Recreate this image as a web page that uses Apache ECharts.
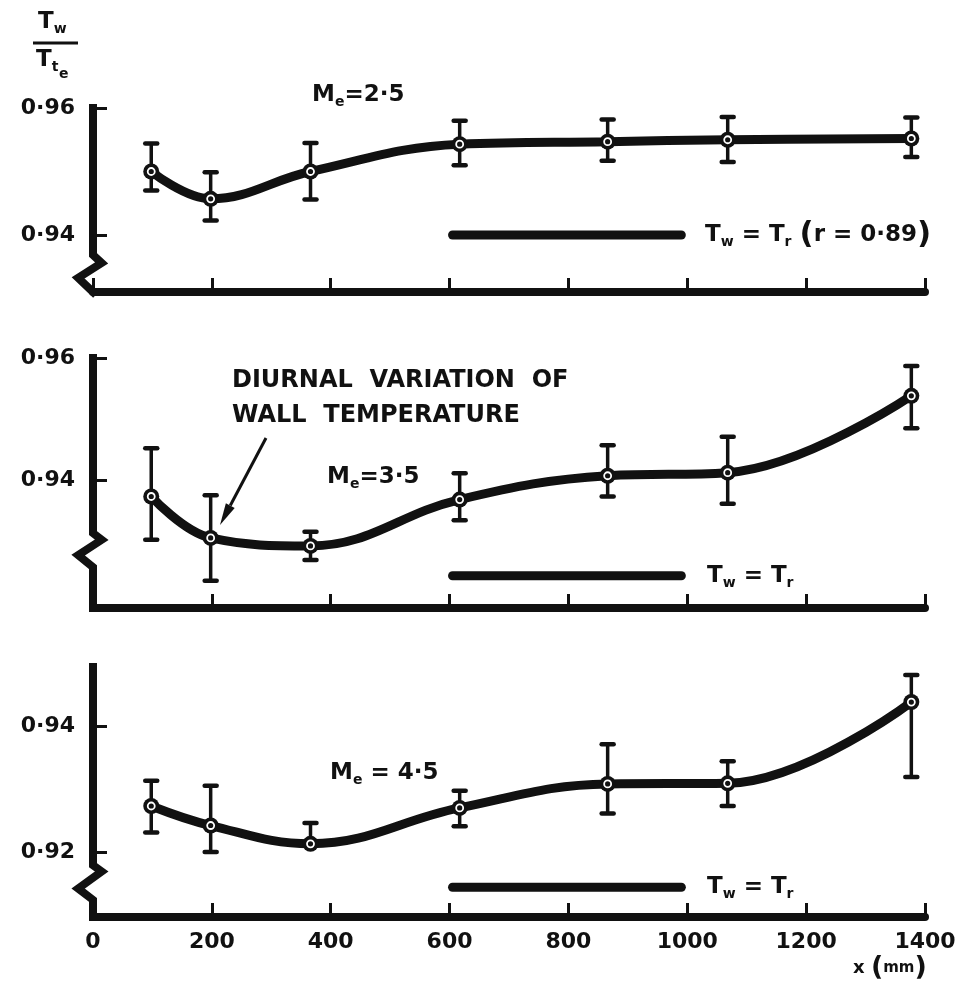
<!DOCTYPE html>
<html><head><meta charset="utf-8">
<script src="https://cdn.jsdelivr.net/npm/echarts@6/dist/echarts.min.js"></script>
<style>html,body{margin:0;padding:0;background:#fff}#c{width:971px;height:1002px}</style>
</head><body><div id="c"></div>
<script>
// ---- data ----
const xTickValues = [0, 200, 400, 600, 800, 1000, 1200, 1400];
const stationX = [98, 198, 366, 617, 866, 1068, 1377];

const me25 = [0.9500, 0.9457, 0.9500, 0.9543, 0.9547, 0.9550, 0.9552];
const me25Hi = [0.9544, 0.9499, 0.9545, 0.9580, 0.9582, 0.9586, 0.9585];
const me25Lo = [0.9470, 0.9423, 0.9456, 0.9510, 0.9517, 0.9515, 0.9523];

const me35 = [0.9373, 0.9305, 0.9292, 0.9368, 0.9407, 0.9412, 0.9538];
const me35Hi = [0.9452, 0.9375, 0.9315, 0.9411, 0.9457, 0.9471, 0.9587];
const me35Lo = [0.9302, 0.9235, 0.9269, 0.9334, 0.9373, 0.9361, 0.9485];

const me45 = [0.9273, 0.9242, 0.9213, 0.9270, 0.9308, 0.9309, 0.9438];
const me45Hi = [0.9313, 0.9305, 0.9246, 0.9297, 0.9371, 0.9344, 0.9481];
const me45Lo = [0.9231, 0.9200, 0.9213, 0.9241, 0.9261, 0.9273, 0.9319];

const recoveryX = [605, 990];
const recoveryY = [0.94, 0.9243, 0.9144];

const yTicks1 = [0.94, 0.96];
const yTicks2 = [0.94, 0.96];
const yTicks3 = [0.92, 0.94];

// ---- layout ----
const INK = '#111';
const FONT = 'DejaVu Sans';
const panels = [
  {top: 108, height: 184, min: 0.93102, max: 0.96, ticks: yTicks1, v: me25, hi: me25Hi, lo: me25Lo,
   brk: [0.93685, 0.93559, 0.93323]},
  {top: 358, height: 250, min: 0.91902, max: 0.96, ticks: yTicks2, v: me35, hi: me35Hi, lo: me35Lo,
   brk: [0.9313, 0.9302, 0.9277, 0.9257]},
  {top: 667, height: 250, min: 0.90968, max: 0.94936, ticks: yTicks3, v: me45, hi: me45Hi, lo: me45Lo,
   brk: [0.9179, 0.9169, 0.9142, 0.9124]}
];

const grid = [], xAxis = [], yAxis = [], series = [];
panels.forEach((p, i) => {
  grid.push({left: 93, width: 832, top: p.top, height: p.height});
  xAxis.push({
    gridIndex: i, type: 'value', min: 0, max: 1400, interval: 200,
    axisLine: {onZero: false, lineStyle: {color: INK, width: 8}},
    axisTick: {inside: true, length: 14, lineStyle: {color: INK, width: 3}},
    axisLabel: {show: i === 2, margin: 14, color: INK, fontFamily: FONT, fontWeight: 'bold', fontSize: 22,
      customValues: xTickValues, formatter: v => String(v)},
    splitLine: {show: false}
  });
  yAxis.push({
    gridIndex: i, type: 'value', min: p.min, max: p.max,
    axisLine: {show: false},
    axisTick: {show: true, inside: true, length: 14, customValues: p.ticks, lineStyle: {color: INK, width: 3}},
    axisLabel: {customValues: p.ticks, margin: 18, color: INK, fontFamily: FONT, fontWeight: 'bold', fontSize: 22,
      formatter: v => v.toFixed(2).replace('.', '\u00b7')},
    splitLine: {show: false}
  });
  // y axis line with the zig-zag break (drawn through the axis scales)
  const b = p.brk;
  const path = [[0, p.max], [0, b[0]], [14.6, b[1]], [-25, b[2]]];
  if (b.length > 3) path.push([0, b[3]]);
  path.push([0, p.min]);
  series.push({type: 'custom', xAxisIndex: i, yAxisIndex: i, data: path, clip: false, silent: true, z: 4,
    encode: {x: 0, y: 1},
    renderItem: (params, api) => {
      if (params.dataIndexInside !== 0) return null;
      const pts = [];
      for (let k = 0; k < params.dataInsideLength; k++) {
        pts.push(api.coord([api.value(0, k), api.value(1, k)]));
      }
      return {type: 'polyline', shape: {points: pts},
        style: {stroke: INK, lineWidth: 8, fill: null, lineJoin: 'miter', lineCap: 'square'}};
    }});
  // fitted curve
  series.push({type: 'line', xAxisIndex: i, yAxisIndex: i, data: stationX.map((x, k) => [x, p.v[k]]),
    smooth: 0.4, symbol: 'none', lineStyle: {color: INK, width: 9}, z: 2});
  // error bars
  series.push({type: 'custom', xAxisIndex: i, yAxisIndex: i, clip: false, z: 3,
    data: stationX.map((x, k) => [x, p.lo[k], p.hi[k]]),
    encode: {x: 0, y: [1, 2]},
    renderItem: (params, api) => {
      const x = api.value(0);
      const a = api.coord([x, api.value(2)]), c = api.coord([x, api.value(1)]);
      const w = 6;
      return {type: 'group', children: [
        {type: 'line', shape: {x1: a[0], y1: a[1], x2: c[0], y2: c[1]}, style: {stroke: INK, lineWidth: 3.5}},
        {type: 'line', shape: {x1: a[0] - w, y1: a[1], x2: a[0] + w, y2: a[1]}, style: {stroke: INK, lineWidth: 4.5, lineCap: 'round'}},
        {type: 'line', shape: {x1: c[0] - w, y1: c[1], x2: c[0] + w, y2: c[1]}, style: {stroke: INK, lineWidth: 4.5, lineCap: 'round'}}
      ]};
    }});
  // markers (⊙)
  const pts = stationX.map((x, k) => [x, p.v[k]]);
  series.push({type: 'scatter', xAxisIndex: i, yAxisIndex: i, data: pts, symbol: 'circle', symbolSize: 16,
    itemStyle: {color: INK, opacity: 1}, z: 5, silent: true});
  series.push({type: 'scatter', xAxisIndex: i, yAxisIndex: i, data: pts, symbol: 'circle', symbolSize: 7,
    itemStyle: {color: INK, borderColor: '#fff', borderWidth: 1.8, opacity: 1}, z: 6, silent: true});
  // T_w = T_r reference line
  series.push({type: 'line', xAxisIndex: i, yAxisIndex: i, data: recoveryX.map(x => [x, recoveryY[i]]),
    symbol: 'none', lineStyle: {color: INK, width: 9, cap: 'round'}, z: 2});
});

const rich = {
  b: {fontFamily: FONT, fontWeight: 'bold', fontSize: 23, lineHeight: 28, fill: INK, verticalAlign: 'middle'},
  a: {fontFamily: FONT, fontWeight: 'bold', fontSize: 24, lineHeight: 28, fill: INK, verticalAlign: 'middle'},
  p: {fontFamily: FONT, fontWeight: 'bold', fontSize: 31, lineHeight: 28, fill: INK, verticalAlign: 'middle'},
  q: {fontFamily: FONT, fontWeight: 'bold', fontSize: 27, lineHeight: 28, fill: INK, verticalAlign: 'middle'},
  x: {fontFamily: FONT, fontWeight: 'bold', fontSize: 18, lineHeight: 28, fill: INK, verticalAlign: 'middle'},
  m: {fontFamily: FONT, fontWeight: 'bold', fontSize: 15, lineHeight: 28, fill: INK, verticalAlign: 'middle'},
  s: {fontFamily: FONT, fontWeight: 'bold', fontSize: 14, lineHeight: 14, fill: INK, verticalAlign: 'bottom'}
};
function txt(text, x, y) {
  return {type: 'text', z: 10, silent: true,
    style: {text, x, y, rich, fill: INK, font: 'bold 22px "DejaVu Sans"', textAlign: 'left', textVerticalAlign: 'middle'}};
}
// arrow
const ax0 = 266, ay0 = 438, ax1 = 220, ay1 = 525;
const len = Math.hypot(ax1 - ax0, ay1 - ay0), ux = (ax1 - ax0) / len, uy = (ay1 - ay0) / len;
const hb = [ax1 - 22 * ux, ay1 - 22 * uy];
const graphic = [
  txt('{b|T}{s|w}', 38, 22),
  {type: 'line', shape: {x1: 33, y1: 43, x2: 78, y2: 43}, style: {stroke: INK, lineWidth: 3}},
  txt('{b|T}{s|t}', 36, 60),
  {type: 'text', z: 10, silent: true, style: {text: 'e', x: 59, y: 74, fill: INK, font: 'bold 14px "DejaVu Sans"', textAlign: 'left', textVerticalAlign: 'middle'}},
  txt('{b|M}{s|e}{b|=2\u00b75}', 312, 95),
  txt('{b|T}{s|w}{b| = T}{s|r}{b| }{p|(}{b|r = 0\u00b789}{p|)}', 705, 235),
  txt('{a|DIURNAL  VARIATION  OF}', 232, 381),
  txt('{a|WALL  TEMPERATURE}', 232, 416),
  txt('{b|M}{s|e}{b|=3\u00b75}', 327, 477),
  txt('{b|T}{s|w}{b| = T}{s|r}', 707, 576),
  txt('{b|M}{s|e}{b| = 4\u00b75}', 330, 773),
  txt('{b|T}{s|w}{b| = T}{s|r}', 707, 887),
  txt('{x|x }{q|(}{m|mm}{q|)}', 853, 968),
  {type: 'line', shape: {x1: ax0, y1: ay0, x2: hb[0], y2: hb[1]}, style: {stroke: INK, lineWidth: 3}},
  {type: 'polygon', shape: {points: [[ax1, ay1], [hb[0] + uy * 5, hb[1] - ux * 5], [hb[0] - uy * 5, hb[1] + ux * 5]]}, style: {fill: INK}}
];

const chart = echarts.init(document.getElementById('c'), null, {renderer: 'canvas'});
chart.setOption({animation: false, backgroundColor: '#fff', grid, xAxis, yAxis, series, graphic});
</script>
</body></html>
